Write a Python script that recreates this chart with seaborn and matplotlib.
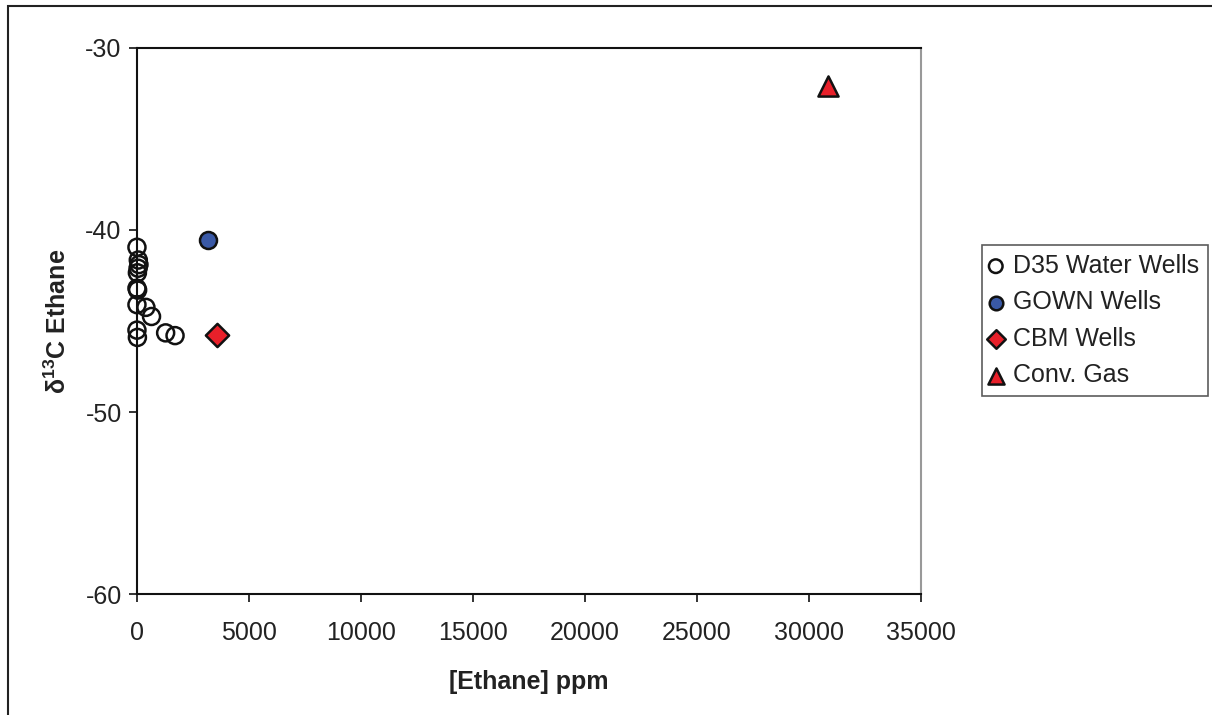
import matplotlib
matplotlib.use("Agg")
import matplotlib.pyplot as plt
from matplotlib.patches import Rectangle
import seaborn as sns
import pandas as pd

# Ethane concentration (ppm) and delta-13C of ethane (per mil) by sample group
d35_ppm = [0, 60, 90, 20, 0, 30, 0, 400, 650, 0, 1280, 1700, 20, 50]
d35_d13c = [-40.95, -41.65, -41.9, -42.35, -43.2, -43.3, -44.1, -44.25, -44.75,
            -45.5, -45.65, -45.8, -45.9, -42.1]

gown_ppm = [3170]
gown_d13c = [-40.55]

cbm_ppm = [3570]
cbm_d13c = [-45.75]

conv_ppm = [30850]
conv_d13c = [-32.1]

x_ticks = [0, 5000, 10000, 15000, 20000, 25000, 30000, 35000]
y_ticks = [-60, -50, -40, -30]

sns.set_theme(style="white")
plt.rcParams["font.family"] = ["Liberation Sans", "DejaVu Sans"]
plt.rcParams["mathtext.fontset"] = "custom"
plt.rcParams["mathtext.bf"] = "Liberation Sans:bold"
plt.rcParams["mathtext.rm"] = "Liberation Sans:bold"
plt.rcParams["mathtext.default"] = "bf"

text_color = "#222222"

fig = plt.figure(figsize=(12.12, 7.15), dpi=100)
ax = fig.add_axes([0.113, 0.169, 0.647, 0.764])

groups = [
    ("D35 Water Wells", d35_ppm, d35_d13c, "o", "none", 150),
    ("GOWN Wells", gown_ppm, gown_d13c, "o", "#3a59a6", 150),
    ("CBM Wells", cbm_ppm, cbm_d13c, "D", "#e8202a", 140),
    ("Conv. Gas", conv_ppm, conv_d13c, "^", "#e8202a", 210),
]
for label, xs, ys, marker, face, size in groups:
    df = pd.DataFrame({"ppm": xs, "d13c": ys})
    sns.scatterplot(data=df, x="ppm", y="d13c", ax=ax, marker=marker, s=size,
                    facecolor=face, edgecolor="#111111", linewidth=1.8,
                    label=label, clip_on=False, zorder=3)

ax.set_xlim(0, 35000)
ax.set_ylim(-60, -30)
ax.set_xticks(x_ticks)
ax.set_yticks(y_ticks)
ax.set_xticklabels([str(t) for t in x_ticks])
ax.set_yticklabels([str(t) for t in y_ticks])
ax.tick_params(axis="both", which="major", direction="out", length=6, width=1.2,
               color="#111111", labelsize=18, labelcolor=text_color)
ax.tick_params(axis="x", bottom=True, pad=13)
ax.tick_params(axis="y", left=True, pad=5)

for side in ["left", "bottom", "top"]:
    ax.spines[side].set_visible(True)
    ax.spines[side].set_color("#111111")
    ax.spines[side].set_linewidth(1.5)
ax.spines["right"].set_visible(True)
ax.spines["right"].set_color("#999999")
ax.spines["right"].set_linewidth(1.5)

ax.set_xlabel("[Ethane] ppm", fontsize=18, fontweight="bold", color=text_color,
              labelpad=18)
ax.set_ylabel("δ$^{13}$C Ethane", fontsize=18, fontweight="bold", color=text_color,
              labelpad=10)

leg = ax.legend(loc="upper left", bbox_to_anchor=(982 / 1212, 1 - 245 / 715),
                bbox_transform=fig.transFigure, fontsize=18, frameon=True,
                fancybox=False, edgecolor="#333333", handlelength=0.4,
                handletextpad=0.5, borderpad=0.35, labelspacing=0.5,
                borderaxespad=0, markerscale=0.8)
leg.get_frame().set_linewidth(1.2)
for t in leg.get_texts():
    t.set_color(text_color)

# outer frame around the figure
fig.patches.append(Rectangle((8 / 1212, -0.2), 1.5, 0.2 + 1 - 6 / 715,
                             transform=fig.transFigure, fill=False,
                             edgecolor="#222222", linewidth=1.5))

fig.savefig("out.png", dpi=100, facecolor="white")
